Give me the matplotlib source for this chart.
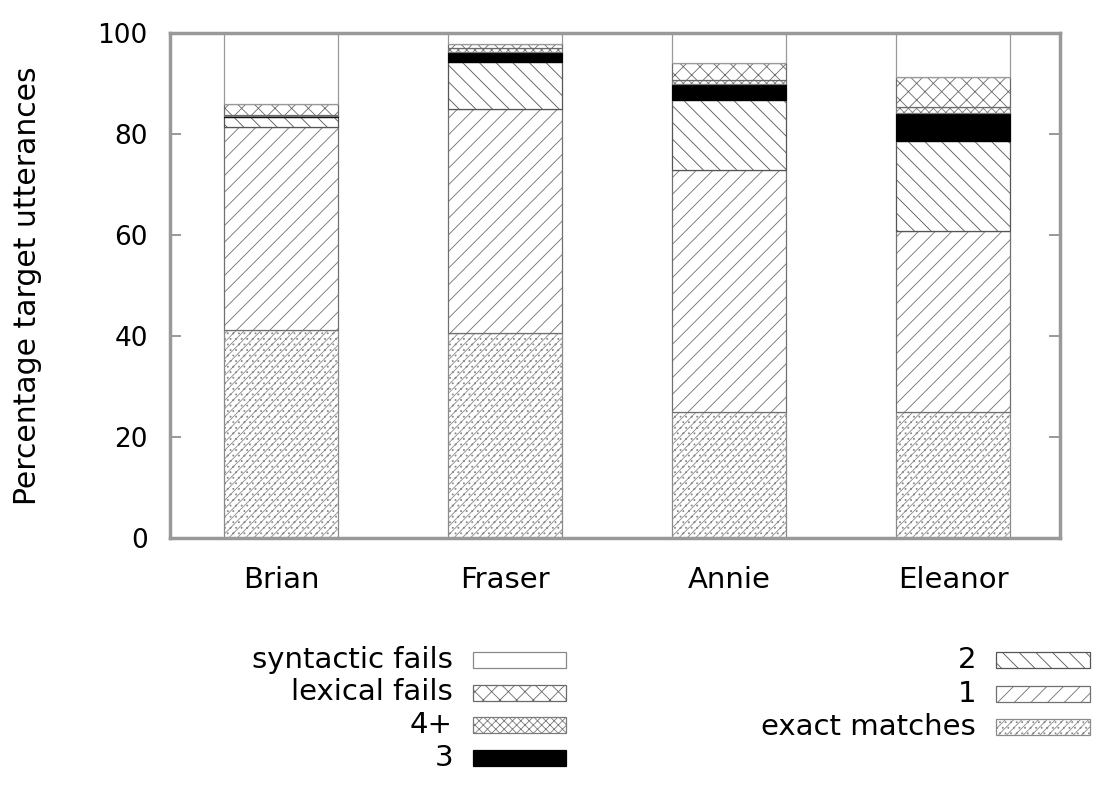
import matplotlib
matplotlib.use("Agg")
import matplotlib.pyplot as plt
from matplotlib.patches import Rectangle
import numpy as np

categories = ["Brian", "Fraser", "Annie", "Eleanor"]
exact_matches = [41.2, 40.6, 25.0, 25.0]
one = [40.2, 44.3, 47.9, 35.8]
two = [2.0, 9.4, 13.8, 17.8]
three = [0.2, 1.9, 3.2, 5.6]
four_plus = [0.2, 0.8, 0.7, 1.1]
lexical_fails = [2.1, 0.8, 3.4, 6.0]
syntactic_fails = [14.1, 2.2, 6.0, 8.7]
yticks = [0, 20, 40, 60, 80, 100]

series_names = ["exact matches", "1", "2", "3", "4+", "lexical fails", "syntactic fails"]
series_vals = [exact_matches, one, two, three, four_plus, lexical_fails, syntactic_fails]
styles = {
    "exact matches": dict(facecolor="white", hatch="////...", edgecolor="#8a8a8a"),
    "1": dict(facecolor="white", hatch="//", edgecolor="#707070"),
    "2": dict(facecolor="white", hatch="\\\\", edgecolor="#555555"),
    "3": dict(facecolor="black", hatch=None, edgecolor="black"),
    "4+": dict(facecolor="white", hatch="xxxx", edgecolor="#7a7a7a"),
    "lexical fails": dict(facecolor="white", hatch="xx", edgecolor="#6a6a6a"),
    "syntactic fails": dict(facecolor="white", hatch=None, edgecolor="#999999"),
}

plt.rcParams["font.family"] = ["DejaVu Sans"]
plt.rcParams["hatch.linewidth"] = 0.6

W, H = 1096, 787
fig = plt.figure(figsize=(W / 100, H / 100), dpi=100)
ax = fig.add_axes([170 / W, 1 - 538 / H, (1060 - 170) / W, (538 - 33) / H])

x = np.arange(len(categories))
bottom = np.zeros(len(categories))
for name, vals in zip(series_names, series_vals):
    st = styles[name]
    ax.bar(x, vals, width=0.51, bottom=bottom, facecolor=st["facecolor"],
           edgecolor=st["edgecolor"], hatch=st["hatch"], linewidth=0.9, zorder=2)
    bottom += np.array(vals)

ax.set_xlim(-0.496, 3.478)
ax.set_ylim(0, 100)
ax.set_xticks(x)
ax.set_xticklabels(categories, fontsize=21)
ax.set_yticks(yticks)
ax.set_yticklabels([str(v) for v in yticks], fontsize=19)
ax.tick_params(axis="x", length=0, pad=20)
ax.tick_params(axis="y", direction="in", length=8, width=1.2, color="#888888",
               right=True, pad=16)
for s in ax.spines.values():
    s.set_color("#999999")
    s.set_linewidth(2.5)
ax.set_ylabel("Percentage target utterances", fontsize=21.5)
ax.yaxis.set_label_coords(-0.144, 0.5)

# legend drawn in figure pixel coordinates
def px(xp, yp):
    return xp / W, 1 - yp / H

left_items = ["syntactic fails", "lexical fails", "4+", "3"]
left_rows = [660, 692.5, 725, 757.5]
right_items = ["2", "1", "exact matches"]
right_rows = [660, 693.5, 727]

def draw_col(items, rows, text_right, sw_left, sw_right):
    for name, yc in zip(items, rows):
        st = styles[name]
        x0, y0 = px(sw_left, yc + 8)
        rect = Rectangle((x0, y0), (sw_right - sw_left) / W, 16 / H,
                         transform=fig.transFigure, facecolor=st["facecolor"],
                         edgecolor=st["edgecolor"] if name != "syntactic fails" else "#888888",
                         hatch=st["hatch"], linewidth=0.9)
        fig.add_artist(rect)
        tx, ty = px(text_right, yc)
        fig.text(tx, ty, name, ha="right", va="center", fontsize=21)

draw_col(left_items, left_rows, 453, 473, 566)
draw_col(right_items, right_rows, 976, 996, 1090)

fig.savefig("out.png", dpi=100)
